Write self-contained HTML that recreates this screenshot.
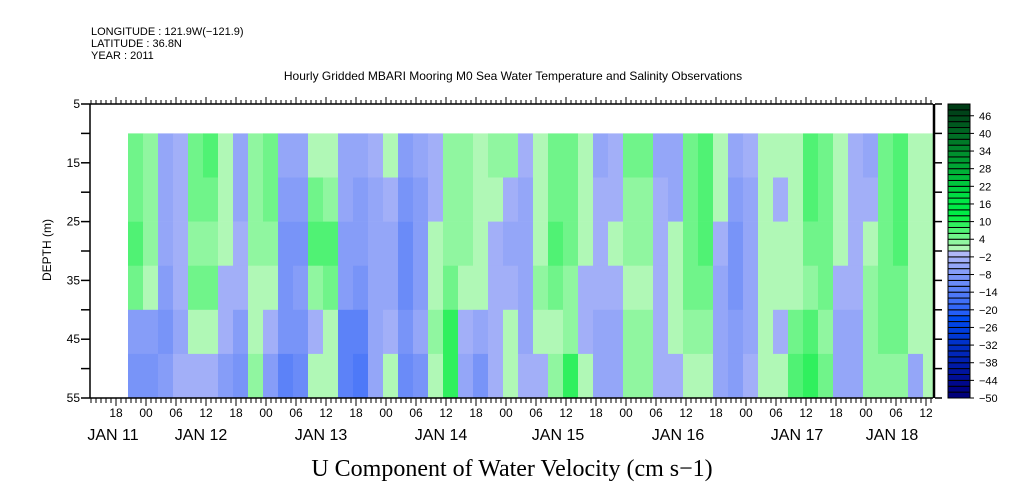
<!DOCTYPE html>
<html><head><meta charset="utf-8"><style>
html,body{margin:0;padding:0;background:#fff;}
svg{display:block;font-family:"Liberation Sans",sans-serif;}
</style></head><body>
<svg id="chart" width="1009" height="504" viewBox="0 0 1009 504" xmlns="http://www.w3.org/2000/svg">
<g font-size="11" fill="#000">
<text x="91" y="35">LONGITUDE : 121.9W(−121.9)</text>
<text x="91" y="47">LATITUDE : 36.8N</text>
<text x="91" y="59">YEAR : 2011</text>
<text x="513" y="80" text-anchor="middle" font-size="12">Hourly Gridded MBARI Mooring M0 Sea Water Temperature and Salinity Observations</text>
</g>
<g id="cells"></g>
<g id="axes"></g>
<g id="cbar"></g>
<text transform="translate(51,250) rotate(-90)" text-anchor="middle" font-size="12">DEPTH (m)</text>
<text x="512" y="476" text-anchor="middle" font-size="24" font-family="Liberation Serif, serif">U Component of Water Velocity (cm s−1)</text>
</svg>
<script>
// time of each column start (hours from JAN 12 00:00), 3-hour columns
const colStartHour = -3.6;
const colHours = 3;
// depth bands (m)
const depthEdges = [10, 17.5, 25, 32.5, 40, 47.5, 55];
// U velocity (cm/s) per column, top band to bottom band
const uValues = [
[6,6,8,6,-6,-8],[4,4,4,2,-6,-8],[-4,-4,-4,-6,-8,-6],[-2,-2,-2,-2,-4,-2],
[6,6,4,6,2,-2],[8,6,4,6,2,-2],[2,2,2,-2,-2,-6],[-4,-4,-2,-2,-6,-8],
[4,4,4,2,2,4],[6,6,4,2,-2,-6],[-4,-6,-8,-8,-8,-12],[-4,-6,-8,-6,-8,-10],
[2,6,8,4,-2,2],[2,4,8,6,2,2],[-4,-4,-6,-6,-12,-12],[-4,-6,-6,-8,-12,-14],
[-2,-4,-4,-4,-4,-4],[2,-2,-4,-4,-2,2],[-6,-8,-10,-10,-8,-10],[-4,-6,-6,-6,-4,-8],
[-2,-2,2,2,4,2],[4,4,4,6,10,10],[4,4,4,2,-2,-4],[2,2,2,2,-4,-8],
[4,2,-2,-2,-2,-2],[4,-2,-4,-2,2,2],[-2,-4,-4,-4,-4,-2],[2,2,2,4,2,-2],
[6,6,8,6,2,4],[6,6,6,4,4,10],[2,2,2,-2,-2,2],[-4,-2,-2,-2,-4,-4],
[-2,-2,2,-2,-4,-4],[6,4,4,2,4,4],[6,4,4,2,4,4],[-4,-2,-2,-2,-2,-2],
[-4,-4,2,2,2,-2],[6,6,6,6,4,2],[8,8,8,6,4,2],[2,2,-2,-4,-4,-4],
[-4,-6,-8,-8,-6,-6],[-2,-4,-4,-4,-4,-2],[2,2,2,2,2,2],[2,-2,2,2,-2,2],
[2,2,2,2,6,8],[8,8,6,4,8,10],[6,6,6,6,4,6],[2,2,2,-2,-4,-4],
[-2,-2,-2,-2,-4,-4],[-4,-2,2,4,4,4],[6,6,6,6,6,4],[8,8,8,6,6,4],
[2,2,2,2,2,-4],[2,2,2,2,2,2]
];
// axis tick labels
const hourLabels = ["18","00","06","12","18","00","06","12","18","00","06","12","18","00","06","12","18","00","06","12","18","00","06","12","18","00","06","12"];
const hourLabelStart = -6; // hours of first label
const dateLabels = ["JAN 11","JAN 12","JAN 13","JAN 14","JAN 15","JAN 16","JAN 17","JAN 18"];
const dateLabelHours = [-6.6,11,35,59,82.4,106.4,130.2,149.2];
const depthTicks = [5,15,25,35,45,55];
const cbarLabels = [46,40,34,28,22,16,10,4,-2,-8,-14,-20,-26,-32,-38,-44,-50];

const NS="http://www.w3.org/2000/svg";
const X0=90, X1=933, Y0=104, Y1=398;
const xOf = h => 146 + h*5;
const yOf = d => Y0 + (d-5)*(Y1-Y0)/50;
function mk(tag, attrs, parent){const e=document.createElementNS(NS,tag);for(const k in attrs)e.setAttribute(k,attrs[k]);parent.appendChild(e);return e;}
function colorFor(v){
  const lvl=Math.max(-25,Math.min(24,Math.floor(v/2-1e-9)));
  if(lvl>=0){
    if(lvl<=8){const r=Math.max(0,176-lvl*32);const g=248-lvl*2;const b=Math.max(70,182-lvl*22);return `rgb(${r},${g},${b})`;}
    return `rgb(0,${Math.max(60,Math.round(232-(lvl-8)*11))},${Math.max(20,Math.round(70-(lvl-8)*3))})`;
  } else {
    const n=-lvl-1;
    if(n<=10){return `rgb(${Math.round(176-n*14)},${Math.round(184-n*9)},248)`;}
    return `rgb(0,${Math.max(0,Math.round(80-(n-10)*6))},${Math.round(248-(n-10)*9)})`;
  }
}
const cells=document.getElementById('cells');
uValues.forEach((col,i)=>{
  const h0=colStartHour+i*colHours;
  const xa=Math.max(xOf(h0),X0), xb=Math.min(xOf(h0+colHours),X1);
  if(xb<=xa) return;
  col.forEach((v,j)=>{
    const r=mk('rect',{x:xa,y:yOf(depthEdges[j]),width:xb-xa+0.3,height:yOf(depthEdges[j+1])-yOf(depthEdges[j])+0.3,fill:colorFor(v)},cells);
    
    
  });
});
const ax=document.getElementById('axes');
mk('line',{x1:X0,y1:Y0,x2:X0,y2:Y1,stroke:'#000','stroke-width':1.5},ax);
mk('line',{x1:X0,y1:Y1,x2:X1,y2:Y1,stroke:'#000','stroke-width':1.5},ax);
mk('line',{x1:X0,y1:Y0,x2:X1,y2:Y0,stroke:'#000','stroke-width':1.5},ax);
mk('line',{x1:X1+1,y1:Y0,x2:X1+1,y2:Y1,stroke:'#000','stroke-width':2.5},ax);
for(let h=-11;h<=157;h++){
  const x=xOf(h); if(x<X0||x>X1) continue;
  const major=((h%6)+6)%6===0;
  mk('line',{x1:x,y1:Y1,x2:x,y2:Y1+(major?8:5),stroke:'#000','stroke-width':1},ax);
  mk('line',{x1:x,y1:Y0,x2:x,y2:Y0-(major?7:4),stroke:'#000','stroke-width':1},ax);
}
for(let d=5;d<=55;d+=5){
  const y=yOf(d);
  mk('line',{x1:X0-9,y1:y,x2:X0,y2:y,stroke:'#000','stroke-width':1.5},ax);
  mk('line',{x1:X1+2,y1:y,x2:X1+9,y2:y,stroke:'#000','stroke-width':1.5},ax);
}
depthTicks.forEach(d=>{
  const t=mk('text',{x:X0-10,y:yOf(d)+4,'text-anchor':'end','font-size':12},ax);t.textContent=d;
  
  
});
hourLabels.forEach((s,i)=>{
  const t=mk('text',{x:xOf(hourLabelStart+i*6),y:417,'text-anchor':'middle','font-size':12},ax);t.textContent=s;
  
  
});
dateLabels.forEach((s,i)=>{
  const t=mk('text',{x:xOf(dateLabelHours[i]),y:440,'text-anchor':'middle','font-size':16},ax);t.textContent=s;
  
  
});
const cb=document.getElementById('cbar');
const CX=948, CW=22, cy=v=>Y0+(50-v)*(Y1-Y0)/100;
for(let v=-50;v<50;v+=2){
  const r=mk('rect',{x:CX,y:cy(v+2),width:CW,height:cy(v)-cy(v+2),fill:colorFor(v+1),stroke:'#000','stroke-width':1},cb);
  
  
}
cbarLabels.forEach(v=>{
  mk('line',{x1:CX+CW,y1:cy(v),x2:CX+CW+4,y2:cy(v),stroke:'#000'},cb);
  const t=mk('text',{x:CX+CW+9,y:cy(v)+4,'font-size':11},cb);t.textContent=v<0?'−'+(-v):v;
  
  
});
</script>
</body></html>
